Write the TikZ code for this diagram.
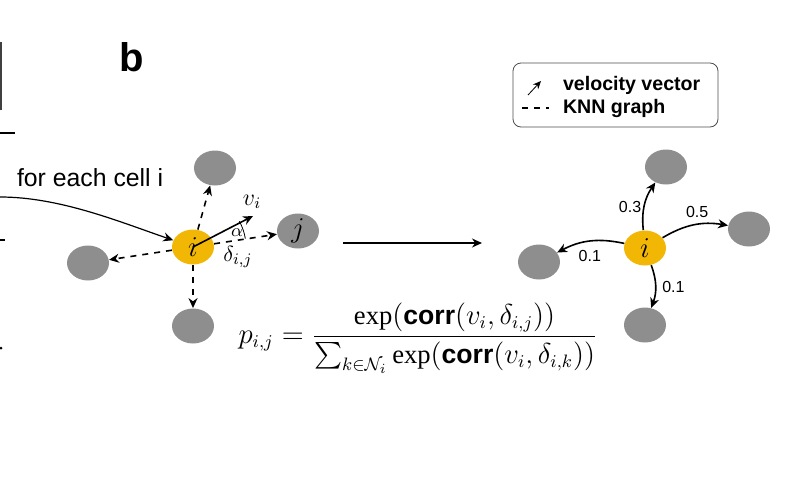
\documentclass[tikz,border=0pt]{standalone}
\usepackage{amsmath}
\usepackage{amssymb}
\usepackage{fontspec}
\setmainfont{Liberation Serif}
\setsansfont{Liberation Sans}
\usetikzlibrary{shapes.geometric,arrows.meta}

\definecolor{cellyellow}{HTML}{F2B705}
\definecolor{cellgray}{HTML}{8E8E8E}
\tikzset{
  cell/.style={ellipse,fill=cellgray,minimum width=21pt,minimum height=17.5pt,inner sep=0pt,font=\fontsize{14}{15}\selectfont},
  centercell/.style={cell,fill=cellyellow},
  knn/.style={dashed,thick,-{Stealth[length=5pt,width=4.5pt]}},
  vel/.style={thick,-{Stealth[length=5pt,width=4.5pt]}},
  prob/.style={font=\sffamily\fontsize{8}{9}\selectfont,inner sep=1pt}
}

\begin{document}
\begin{tikzpicture}[x=0.5pt,y=0.5pt]
\useasboundingbox (0,0) rectangle (798,-477);

% cut off bits of panel a
\draw[line width=1.2pt,black!75] (1,-42) -- (1,-110);
\draw[thick] (0,-133) -- (15,-133);
\draw[thick] (0,-240) -- (5,-240);
\fill (1,-348) circle (1.5);

\node[font=\sffamily\bfseries\fontsize{20}{22}\selectfont] (panel) at (132,-57) {b};

% left: KNN graph around cell i
\node[centercell] (i) at (193,-247) {$i$};
\node[cell] (up) at (215,-168) {};
\node[cell] (j) at (298,-231) {$j$};
\node[cell] (lt) at (88,-263) {};
\node[cell] (dn) at (193,-326) {};
\foreach \n in {up,j,lt,dn}
  \draw[knn] (i) -- (\n);

\coordinate (vtip) at (253,-216);
\draw[vel] (i.center) -- (vtip);
\node[font=\fontsize{12}{13}\selectfont] (vlab) at (252,-202) {$v_i$};
\draw[thin] (i.center) ++(9:53) arc[start angle=9,end angle=29,radius=53];
\node[font=\fontsize{9.5}{10}\selectfont] (alab) at (237,-233) {$\alpha$};
\node[font=\fontsize{11}{12}\selectfont] (dlab) at (238,-257) {$\delta_{i,j}$};

\coordinate (src) at (0,-197);
\draw[vel,semithick] (src) .. controls (60,-197) and (120,-222) .. (i);
\node[font=\sffamily\fontsize{12.4}{14}\selectfont,anchor=west] (each) at (10,-178) {for each cell i};

\coordinate (m1) at (343,-243);
\coordinate (m2) at (482,-243);
\draw[vel,semithick] (m1) -- (m2);

\node[font=\fontsize{13.3}{15}\selectfont] (eq) at (418,-338)
  {$p_{i,j}=\dfrac{\exp(\textsf{\bfseries corr}(v_i,\delta_{i,j}))}{{\textstyle\sum_{k\in\mathcal{N}_i}}\exp(\textsf{\bfseries corr}(v_i,\delta_{i,k}))}$};

% legend
\node[draw=black!70,rounded corners=4pt,minimum width=102.5pt,minimum height=32pt] (legend) at (615.5,-95) {};
\coordinate (l1) at (528,-95);
\coordinate (l2) at (541,-81);
\draw[-{Stealth[length=4pt,width=3.5pt]}] (l1) -- (l2);
\coordinate (l3) at (522,-108);
\coordinate (l4) at (549,-108);
\draw[dashed,thick] (l3) -- (l4);
\node[font=\sffamily\bfseries\fontsize{9.8}{11}\selectfont,anchor=west] (vv) at (556,-85) {velocity vector};
\node[font=\sffamily\bfseries\fontsize{9.8}{11}\selectfont,anchor=west] (kg) at (556,-108) {KNN graph};

% right: transition probabilities
\node[centercell] (i2) at (645,-248) {$i$};
\node[cell] (up2) at (666,-167) {};
\node[cell] (rt2) at (749,-229) {};
\node[cell] (lt2) at (539,-262) {};
\node[cell] (dn2) at (645,-325) {};
\draw[vel] (i2) to[bend left=20] node[prob,pos=0.45,left] {0.3} (up2);
\draw[vel] (i2) to[bend left=20] node[prob,pos=0.55,above=2pt] {0.5} (rt2);
\draw[vel] (i2) to[bend right=20] node[prob,pos=0.5,below=3pt] {0.1} (lt2);
\draw[vel] (i2) to[bend left=20] node[prob,pos=0.5,right=2pt] {0.1} (dn2);
\end{tikzpicture}
\end{document}
